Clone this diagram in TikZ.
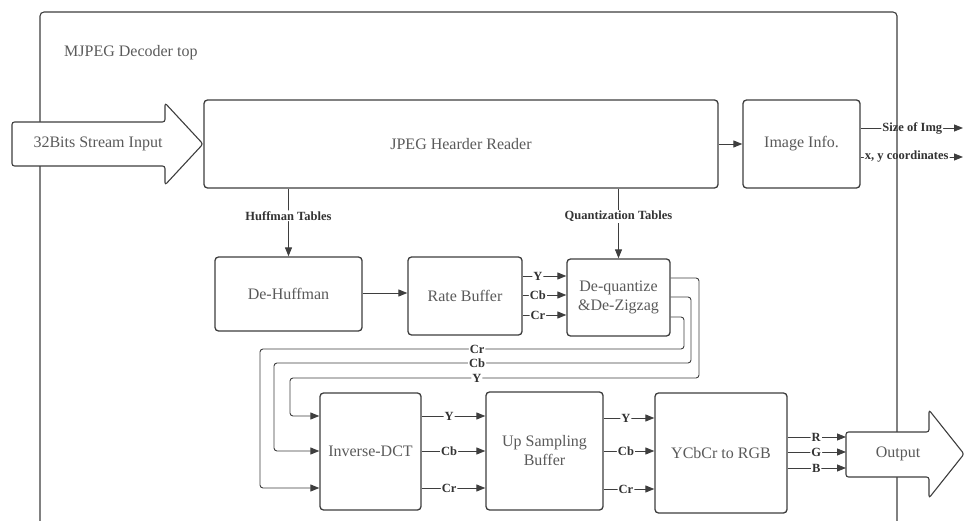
\documentclass[tikz,border=0pt]{standalone}
\usepackage{fontspec}
\setmainfont{Liberation Serif}
\usetikzlibrary{arrows.meta}
\definecolor{edge}{HTML}{3E3E3E}
\definecolor{txt}{HTML}{5A5A5A}
\definecolor{lbl}{HTML}{333333}

\begin{document}
\begin{tikzpicture}[x=1pt,y=-1pt,
  box/.style={draw=edge, line width=1.3pt, rounded corners=3.5pt, fill=white,
    text=txt, font=\fontsize{16}{19}\selectfont, align=center, inner sep=0pt},
  conn/.style={draw=edge, line width=0.9pt, rounded corners=3pt,
    -{Triangle[length=9pt,width=7pt]}},
  lab/.style={fill=white, inner sep=1pt, text=lbl,
    font=\fontsize{12.5}{14}\selectfont\bfseries},
  bigarrow/.style={draw=edge, line width=1.1pt, fill=white, rounded corners=2.5pt},
  plain/.style={text=txt, font=\fontsize{16}{19}\selectfont, inner sep=0pt},
]
\useasboundingbox (0,0) rectangle (964,521);

% processing blocks
\node[box, minimum width=514pt, minimum height=88pt] (hdr)  at (461,144)   {JPEG Hearder Reader};
\node[box, minimum width=117pt, minimum height=88pt] (info) at (801.5,144) {Image Info.};
\node[box, minimum width=147pt, minimum height=74pt] (dhuf) at (288.5,294) {De-Huffman};
\node[box, minimum width=114pt, minimum height=78pt] (rbuf) at (465,296)   {Rate Buffer};
\node[box, minimum width=103pt, minimum height=77pt] (dq)   at (618.5,297.5) {De-quantize\\\&De-Zigzag};
\node[box, minimum width=101pt, minimum height=117pt] (idct) at (370.5,451.5) {Inverse-DCT};
\node[box, minimum width=117pt, minimum height=118pt] (ups)  at (544.5,451)   {Up Sampling\\Buffer};
\node[box, minimum width=132pt, minimum height=120pt] (rgb)  at (721,453)     {YCbCr to RGB};

% signal levels
\coordinate (sz)  at (0,128);  \coordinate (szEnd) at (963,128);
\coordinate (xy)  at (0,157);  \coordinate (xyEnd) at (963,157);
\coordinate (rY)  at (0,276);  \coordinate (rCb) at (0,295);  \coordinate (rCr) at (0,315);
\coordinate (qY)  at (0,278);  \coordinate (qCb) at (0,297);  \coordinate (qCr) at (0,317);
\coordinate (bY)  at (699,378); \coordinate (lY)  at (290,378);
\coordinate (bCb) at (691,363); \coordinate (lCb) at (274,363);
\coordinate (bCr) at (684,349); \coordinate (lCr) at (260,349);
\coordinate (iY)  at (0,416);  \coordinate (iCb) at (0,451);  \coordinate (iCr) at (0,488);
\coordinate (uY)  at (0,418);  \coordinate (uCb) at (0,451);  \coordinate (uCr) at (0,489);
\coordinate (oR)  at (0,437);  \coordinate (oG)  at (0,452);  \coordinate (oB)  at (0,468);

% image information outputs
\draw[conn] (info.east |- sz) -- node[lab, pos=0.505] {Size of Img} (szEnd);
\draw[conn] (info.east |- xy) -- node[lab, pos=0.45] {x, y coordinates} (xyEnd);

% enclosing module
\draw[draw=edge, line width=1.1pt, rounded corners=4pt] (40,521) -- (40,12) -- (897,12) -- (897,521);
\node[plain, anchor=west] (title) at (64,53) {MJPEG Decoder top};

% stream input
\draw[bigarrow] (12,122) -- (165,122) -- (165,103) -- (203,144) -- (165,185) -- (165,166) -- (12,166) -- cycle;
\node[plain] (inp) at (98,144) {32Bits Stream Input};

% output
\coordinate (outL) at (846,454);
\draw[bigarrow] (846,432) -- (929,432) -- (929,410) -- (964,454) -- (929,498) -- (929,477) -- (846,477) -- cycle;
\node[plain] (outp) at (898,454) {Output};

% header reader connections
\draw[conn] (hdr) -- (info);
\draw[conn] (hdr.south -| dhuf.north) -- node[lab, pos=0.4] {Huffman Tables} (dhuf.north);
\draw[conn] (hdr.south -| dq.north) -- node[lab, pos=0.4] {Quantization Tables} (dq.north);

% entropy decoding path
\draw[conn] (dhuf.east |- 0,293) -- (rbuf.west |- 0,293);
\draw[conn] (rbuf.east |- rY)  -- node[lab, pos=0.35] {Y}  (dq.west |- rY);
\draw[conn] (rbuf.east |- rCb) -- node[lab, pos=0.35] {Cb} (dq.west |- rCb);
\draw[conn] (rbuf.east |- rCr) -- node[lab, pos=0.35] {Cr} (dq.west |- rCr);

% feedback to the inverse DCT
\draw[conn] (dq.east |- qY)  -| (bY)  -- node[lab, pos=0.543] {Y}  (lY)  |- (idct.west |- iY);
\draw[conn] (dq.east |- qCb) -| (bCb) -- node[lab, pos=0.513] {Cb} (lCb) |- (idct.west |- iCb);
\draw[conn] (dq.east |- qCr) -| (bCr) -- node[lab, pos=0.488] {Cr} (lCr) |- (idct.west |- iCr);

% inverse DCT to up sampling
\draw[conn] (idct.east |- iY)  -- node[lab, pos=0.43] {Y}  (ups.west |- iY);
\draw[conn] (idct.east |- iCb) -- node[lab, pos=0.43] {Cb} (ups.west |- iCb);
\draw[conn] (idct.east |- iCr) -- node[lab, pos=0.43] {Cr} (ups.west |- iCr);

% up sampling to colour conversion
\draw[conn] (ups.east |- uY)  -- node[lab, pos=0.44] {Y}  (rgb.west |- uY);
\draw[conn] (ups.east |- uCb) -- node[lab, pos=0.44] {Cb} (rgb.west |- uCb);
\draw[conn] (ups.east |- uCr) -- node[lab, pos=0.44] {Cr} (rgb.west |- uCr);

% colour conversion to output
\draw[conn] (rgb.east |- oR) -- node[lab, pos=0.49] {R} (outL |- oR);
\draw[conn] (rgb.east |- oG) -- node[lab, pos=0.49] {G} (outL |- oG);
\draw[conn] (rgb.east |- oB) -- node[lab, pos=0.49] {B} (outL |- oB);
\end{tikzpicture}
\end{document}
